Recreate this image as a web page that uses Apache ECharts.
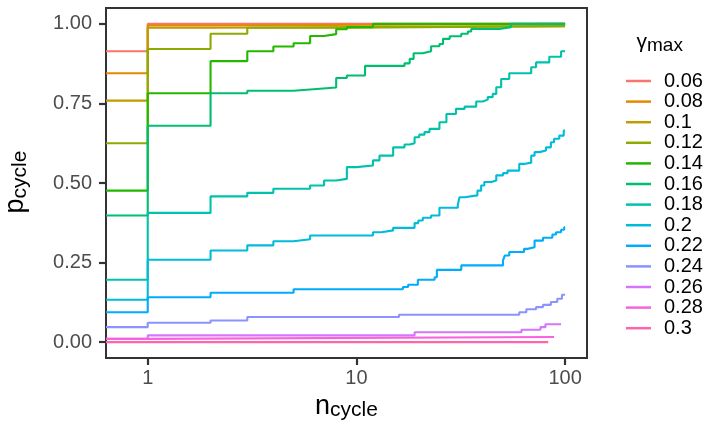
<!DOCTYPE html>
<html>
<head>
<meta charset="utf-8">
<script src="https://cdn.jsdelivr.net/npm/echarts@6/dist/echarts.min.js"></script>
<style>html,body{margin:0;padding:0;background:#fff}#c{width:704px;height:423px}</style>
</head>
<body>
<div id="c"></div>
<script>
// ---- data ----
const gammaLevels = ['0.06','0.08','0.1','0.12','0.14','0.16','0.18','0.2','0.22','0.24','0.26','0.28','0.3'];
const colors = ['#F8766D','#E18A00','#BE9C00','#8CAB00','#24B700','#00BE70','#00C1AB','#00BBDA','#00ACFC','#8B93FF','#D575FE','#F962DD','#FF65AC'];
const xEdge = 0.631; // left edge of panel (n = 0 on a log scale)

const x006 = [xEdge, 1, 100];
const y006 = [0.914, 1.0, 1.0];
const x008 = [xEdge, 1, 2, 100];
const y008 = [0.845, 0.995, 1.0, 1.0];
const x010 = [xEdge, 1, 2, 100];
const y010 = [0.759, 0.988, 0.993, 0.993];
const x012 = [xEdge, 1, 2, 3, 9, 100];
const y012 = [0.625, 0.921, 0.969, 0.988, 0.993, 0.993];
const x014 = [xEdge, 1, 2, 3, 4, 5, 6, 7, 8, 9, 12, 100];
const y014 = [0.476, 0.782, 0.883, 0.914, 0.929, 0.939, 0.962, 0.968, 0.983, 0.99, 1.0, 1.0];
const x016 = [xEdge, 1, 2, 3, 5, 6, 8, 9, 11, 17, 18, 18.8, 20.8, 22.8, 25, 26, 28, 31.8, 34.2, 35.5, 48.5, 55, 100];
const y016 = [0.398, 0.68, 0.782, 0.79, 0.794, 0.8, 0.83, 0.838, 0.868, 0.876, 0.89, 0.908, 0.914, 0.93, 0.937, 0.953, 0.961, 0.969, 0.976, 0.984, 0.99, 1.0, 1.0];
const x018 = [xEdge, 1, 2, 3, 4, 6, 7, 8, 9, 10, 12, 12.9, 15, 17, 18, 19, 20, 21.2, 22.4, 25, 27, 30, 33, 37.5, 40.3, 42.6, 45, 46.8, 49.4, 54, 68.8, 72.6, 84, 95.7, 100];
const y018 = [0.196, 0.406, 0.458, 0.469, 0.482, 0.492, 0.508, 0.513, 0.55, 0.555, 0.571, 0.586, 0.612, 0.621, 0.625, 0.644, 0.652, 0.66, 0.67, 0.691, 0.717, 0.733, 0.74, 0.756, 0.762, 0.77, 0.78, 0.801, 0.827, 0.845, 0.864, 0.879, 0.897, 0.914, 0.914];
const x020 = [xEdge, 1, 2, 3, 4, 5, 6, 12, 13.2, 15, 19, 19.8, 20.8, 22.8, 25, 30.6, 31.2, 33, 38, 39.6, 41, 44.3, 46.8, 50.4, 53, 60.3, 63.6, 68.8, 71.4, 75.3, 81, 85.5, 88.6, 93.8, 98.5, 100];
const y020 = [0.133, 0.259, 0.288, 0.304, 0.317, 0.323, 0.335, 0.345, 0.351, 0.359, 0.374, 0.382, 0.391, 0.398, 0.422, 0.432, 0.455, 0.461, 0.476, 0.492, 0.503, 0.508, 0.524, 0.531, 0.539, 0.56, 0.564, 0.586, 0.597, 0.602, 0.612, 0.628, 0.639, 0.649, 0.665, 0.665];
const x022 = [xEdge, 1, 2, 5, 16.7, 17.7, 19.7, 23.7, 24.3, 31.8, 50.4, 51.4, 54, 63.6, 66, 71.4, 78.4, 86.9, 90.5, 95.7, 99, 100];
const y022 = [0.094, 0.141, 0.155, 0.166, 0.173, 0.18, 0.196, 0.204, 0.227, 0.241, 0.257, 0.272, 0.283, 0.293, 0.298, 0.319, 0.328, 0.338, 0.345, 0.353, 0.361, 0.361];
const x024 = [xEdge, 1, 2, 3, 16, 60.3, 65.2, 72.6, 78.4, 85.5, 91.7, 96.6, 100];
const y024 = [0.047, 0.061, 0.068, 0.079, 0.086, 0.094, 0.103, 0.11, 0.117, 0.126, 0.136, 0.149, 0.149];
const x026 = [xEdge, 1, 19, 61.8, 76.2, 80.5, 95.7];
const y026 = [0.01, 0.021, 0.031, 0.039, 0.047, 0.056, 0.056];
const x028 = [xEdge, 1, 88.6];
const y028 = [0.01, 0.016, 0.016];
const x030 = [xEdge, 83];
const y030 = [0.0, 0.0];

const seriesX = [x006, x008, x010, x012, x014, x016, x018, x020, x022, x024, x026, x028, x030];
const seriesY = [y006, y008, y010, y012, y014, y016, y018, y020, y022, y024, y026, y028, y030];

const xTickValues = [1, 10, 100];
const yTickValues = [0, 0.25, 0.5, 0.75, 1];

// ---- chart ----
const FONT = '"Liberation Sans", Arial, sans-serif';
const chart = echarts.init(document.getElementById('c'), null, {renderer: 'canvas'});

const series = gammaLevels.map((g, i) => ({
  name: g,
  type: 'line',
  xAxisIndex: 0,
  yAxisIndex: 0,
  step: 'end',
  symbol: 'none',
  showSymbol: false,
  color: colors[i],
  itemStyle: {color: colors[i]},
  lineStyle: {color: colors[i], width: 2.1},
  emphasis: {disabled: true},
  data: seriesX[i].map((x, k) => [x, seriesY[i][k]])
}));

const option = {
  animation: false,
  backgroundColor: '#ffffff',
  color: colors,
  grid: {
    left: 106, top: 8, width: 481, height: 350,
    show: true, borderColor: '#333333', borderWidth: 2, backgroundColor: '#ffffff'
  },
  xAxis: [
    {
      type: 'log', logBase: 10,
      min: Math.pow(10, -0.2), max: Math.pow(10, 2.105),
      show: false
    },
    {
      type: 'value', position: 'bottom',
      min: -0.2, max: 2.105,
      axisLine: {show: true, onZero: false, lineStyle: {color: '#333333', width: 2}},
      splitLine: {show: false},
      axisTick: {show: true, length: 7, customValues: xTickValues.map(v => Math.log10(v)),
                 lineStyle: {color: '#333333', width: 2.2}},
      axisLabel: {show: true, margin: 10, customValues: xTickValues.map(v => Math.log10(v)),
                  formatter: v => String(Math.round(Math.pow(10, v))),
                  color: '#4D4D4D', fontSize: 20, fontFamily: FONT}
    }
  ],
  yAxis: [{
    type: 'value', position: 'left', min: -0.05, max: 1.05,
    axisLine: {show: true, onZero: false, lineStyle: {color: '#333333', width: 2}},
    splitLine: {show: false},
    axisTick: {show: true, length: 7, customValues: yTickValues, lineStyle: {color: '#333333', width: 2.2}},
    axisLabel: {show: true, margin: 14, customValues: yTickValues,
                formatter: v => v.toFixed(2), color: '#4D4D4D', fontSize: 20, fontFamily: FONT}
  }],
  legend: {
    show: true, orient: 'vertical', left: 621, top: 66,
    itemWidth: 25, itemHeight: 2.5, itemGap: 0.6, icon: 'rect',
    selectedMode: false,
    data: gammaLevels,
    textStyle: {color: '#000000', fontSize: 20, lineHeight: 20, fontFamily: FONT, padding: [0, 0, 0, 8]}
  },
  graphic: [
    // x-axis title: n_cycle
    {type: 'text', x: 315, y: 406.5, silent: true,
     style: {text: 'n', font: '27px ' + FONT, fill: '#000', align: 'left', verticalAlign: 'middle'}},
    {type: 'text', x: 330, y: 410.7, silent: true,
     style: {text: 'cycle', font: '21px ' + FONT, fill: '#000', align: 'left', verticalAlign: 'middle'}},
    // y-axis title: p_cycle (rotated)
    {type: 'group', x: 25, y: 183, rotation: Math.PI / 2, silent: true, children: [
      {type: 'text', x: -30.5, y: -9.4,
       style: {text: 'p', font: '27px ' + FONT, fill: '#000', align: 'left', verticalAlign: 'middle'}},
      {type: 'text', x: -15.5, y: -4.3,
       style: {text: 'cycle', font: '21px ' + FONT, fill: '#000', align: 'left', verticalAlign: 'middle'}}
    ]},
    // legend title: gamma_max
    {type: 'text', x: 636.5, y: 42.6, silent: true,
     style: {text: 'γ', font: '21px ' + FONT, fill: '#000', align: 'left', verticalAlign: 'middle'}},
    {type: 'text', x: 647, y: 45.7, silent: true,
     style: {text: 'max', font: '19px ' + FONT, fill: '#000', align: 'left', verticalAlign: 'middle'}}
  ],
  series: series
};
chart.setOption(option);
</script>
</body>
</html>
